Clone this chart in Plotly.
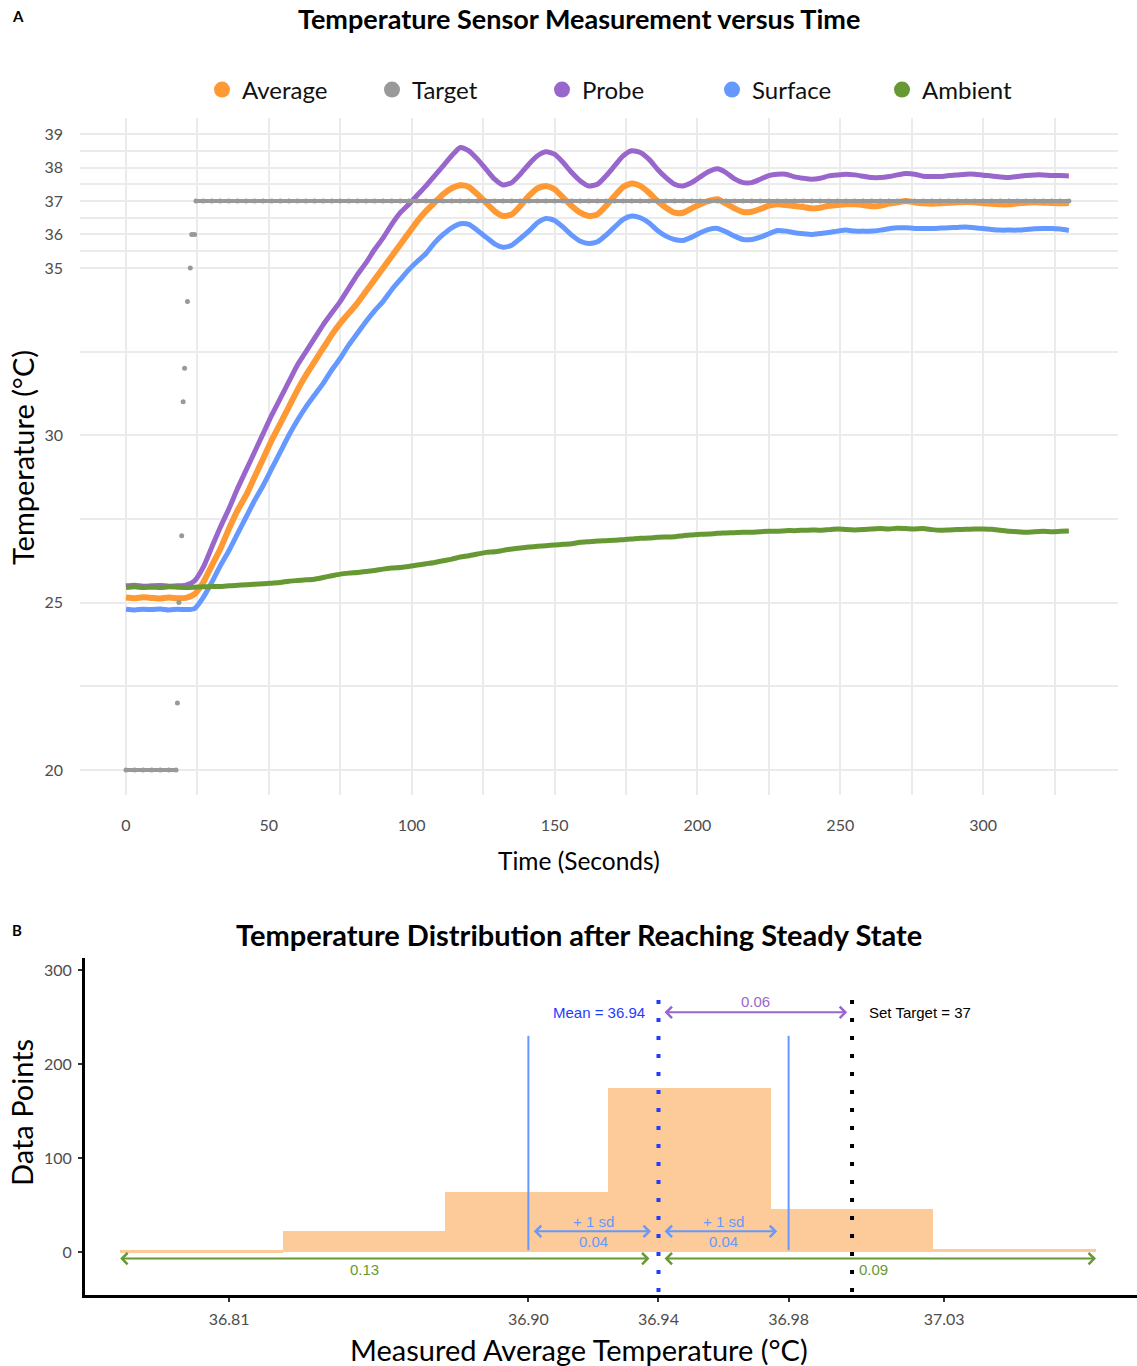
import plotly.graph_objects as go

# ---------------- Panel A data (readings every 3 s) ----------------
time_s = list(range(0, 331, 3))

average = [25.15, 25.13, 25.16, 25.14, 25.12, 25.15, 25.13, 25.14,
           25.25, 25.6, 26.1, 26.6, 27.2, 27.75, 28.2, 28.75, 29.3, 29.85,
           30.35, 30.85, 31.35, 31.8, 32.2, 32.6, 33.0, 33.35, 33.65, 33.95,
           34.3, 34.65, 35.0, 35.35, 35.7, 36.05, 36.4, 36.7, 36.95, 37.2,
           37.38, 37.47, 37.42, 37.2, 36.95, 36.7, 36.55, 36.6, 36.85, 37.15,
           37.38, 37.45, 37.35, 37.1, 36.85, 36.65, 36.55, 36.6, 36.85, 37.15,
           37.42, 37.52, 37.45, 37.25, 37.0, 36.8, 36.65, 36.65, 36.78, 36.9,
           37.0, 37.05, 36.92, 36.78, 36.67, 36.68, 36.76, 36.86, 36.9, 36.88,
           36.85, 36.82, 36.78, 36.8, 36.86, 36.88, 36.9, 36.9, 36.88, 36.84,
           36.86, 36.92, 36.96, 37.0, 36.96, 36.93, 36.92, 36.93, 36.95, 36.96,
           36.97, 36.96, 36.93, 36.92, 36.9, 36.9, 36.93, 36.95, 36.96, 36.95,
           36.94, 36.93, 36.94]

probe = [25.5, 25.52, 25.49, 25.5, 25.51, 25.49, 25.5, 25.52,
         25.65, 26.05, 26.65, 27.25, 27.8, 28.4, 28.95, 29.5, 30.05, 30.6,
         31.1, 31.6, 32.1, 32.5, 32.9, 33.3, 33.65, 34.0, 34.4, 34.8,
         35.15, 35.55, 35.9, 36.3, 36.65, 36.9, 37.18, 37.45, 37.75, 38.05,
         38.35, 38.6, 38.5, 38.25, 37.95, 37.65, 37.48, 37.55, 37.8, 38.1,
         38.35, 38.47, 38.4, 38.15, 37.85, 37.6, 37.45, 37.5, 37.75, 38.05,
         38.35, 38.5, 38.45, 38.25, 37.95, 37.7, 37.5, 37.45, 37.55, 37.72,
         37.88, 37.96, 37.85, 37.66, 37.55, 37.55, 37.65, 37.76, 37.8, 37.8,
         37.72, 37.68, 37.65, 37.68, 37.75, 37.78, 37.8, 37.78, 37.74, 37.7,
         37.7, 37.73, 37.78, 37.82, 37.8, 37.74, 37.73, 37.73, 37.76, 37.78,
         37.8, 37.8, 37.77, 37.75, 37.72, 37.7, 37.73, 37.76, 37.78, 37.78,
         37.76, 37.76, 37.75]

surface = [24.8, 24.78, 24.8, 24.79, 24.81, 24.78, 24.8, 24.79,
           24.82, 25.15, 25.6, 26.1, 26.55, 27.05, 27.55, 28.05, 28.5, 29.0,
           29.5, 30.0, 30.45, 30.85, 31.2, 31.55, 31.95, 32.3, 32.7, 33.05,
           33.4, 33.72, 34.0, 34.35, 34.65, 34.95, 35.2, 35.43, 35.75, 36.0,
           36.2, 36.32, 36.3, 36.12, 35.92, 35.72, 35.62, 35.68, 35.88, 36.1,
           36.35, 36.48, 36.42, 36.22, 35.98, 35.8, 35.73, 35.78, 35.98, 36.22,
           36.45, 36.55, 36.5, 36.35, 36.12, 35.95, 35.85, 35.82, 35.92, 36.05,
           36.15, 36.18, 36.08, 35.95, 35.85, 35.85, 35.92, 36.02, 36.12, 36.1,
           36.05, 36.02, 36.0, 36.03, 36.06, 36.1, 36.13, 36.1, 36.1, 36.1,
           36.13, 36.17, 36.2, 36.2, 36.18, 36.18, 36.18, 36.19, 36.2, 36.21,
           36.22, 36.2, 36.18, 36.15, 36.13, 36.13, 36.13, 36.15, 36.17, 36.18,
           36.18, 36.16, 36.12]

ambient = [25.45, 25.47, 25.45, 25.46, 25.45, 25.47, 25.46, 25.45,
           25.46, 25.47, 25.48, 25.48, 25.5, 25.52, 25.53, 25.55, 25.56, 25.58,
           25.6, 25.64, 25.66, 25.68, 25.7, 25.75, 25.8, 25.85, 25.88, 25.9,
           25.93, 25.96, 26.0, 26.03, 26.05, 26.08, 26.12, 26.16, 26.2, 26.25,
           26.3, 26.36, 26.4, 26.45, 26.5, 26.52, 26.56, 26.6, 26.63, 26.66,
           26.68, 26.7, 26.72, 26.74, 26.76, 26.8, 26.82, 26.84, 26.85, 26.86,
           26.88, 26.9, 26.92, 26.93, 26.95, 26.96, 26.97, 27.0, 27.02, 27.04,
           27.05, 27.07, 27.08, 27.09, 27.1, 27.1, 27.12, 27.13, 27.13, 27.15,
           27.15, 27.16, 27.17, 27.16, 27.18, 27.2, 27.18, 27.17, 27.18, 27.2,
           27.21, 27.2, 27.22, 27.21, 27.2, 27.21, 27.18, 27.16, 27.17, 27.18,
           27.19, 27.2, 27.2, 27.19, 27.16, 27.13, 27.12, 27.1, 27.12, 27.13,
           27.12, 27.13, 27.14]

target_time = [0, 3, 6, 9, 12, 15, 17.5, 18, 18.5, 19.5, 20.0, 20.5, 21.5,
               22.5, 23.0, 24.0, 24.5] + list(range(27, 331, 3))
target_val = [20, 20, 20, 20, 20, 20, 20, 22, 25, 27, 31, 32, 34,
              35, 36, 36, 37] + [37] * len(range(27, 331, 3))

for s in (average, probe, surface, ambient):
    assert len(s) == len(time_s), len(s)

# ---------------- Panel B data ----------------
bin_centers = [36.80, 36.85, 36.90, 36.95, 37.00, 37.05]
bin_counts = [2, 22, 64, 175, 46, 3]
bin_width = 0.05
mean_t = 36.9405
sd_t = 0.04
min_t = 36.8085
max_t = 37.0283
set_target = 37.0
b_ticks = [min_t, mean_t - sd_t, mean_t, mean_t + sd_t, max_t]
b_ticktext = ["36.81", "36.90", "36.94", "36.98", "37.03"]

# ---------------- colours ----------------
C_AVG = "#FF9933"
C_TGT = "#999999"
C_PRB = "#9966CC"
C_SRF = "#6699FF"
C_AMB = "#669933"

W, H = 1137, 1366
def px(x):
    return x / W
def py(y):
    return 1 - y / H

fig = go.Figure()

def sensor(y, color, width=5):
    fig.add_trace(go.Scatter(x=time_s, y=y, mode="lines",
                             line=dict(color=color, width=width, shape="spline", smoothing=0.6),
                             showlegend=False, hoverinfo="skip",
                             xaxis="x", yaxis="y"))

sensor(probe, C_PRB)
sensor(surface, C_SRF)
sensor(average, C_AVG, 6)
sensor(ambient, C_AMB)

# target with gaps where value changes (isolated points become single dots)
tx, ty = [], []
for i, (t, v) in enumerate(zip(target_time, target_val)):
    if i > 0 and v != target_val[i - 1]:
        tx.append(None); ty.append(None)
    tx.append(t); ty.append(v)
fig.add_trace(go.Scatter(x=tx, y=ty, mode="lines+markers",
                         line=dict(color=C_TGT, width=4),
                         marker=dict(color=C_TGT, size=5),
                         showlegend=False, hoverinfo="skip",
                         xaxis="x", yaxis="y"))

# legend entries
for name, c in [("Average", C_AVG), ("Target", C_TGT), ("Probe", C_PRB),
                ("Surface", C_SRF), ("Ambient", C_AMB)]:
    fig.add_trace(go.Scatter(x=[None], y=[None], mode="markers", name=name,
                             marker=dict(color=c, size=16), xaxis="x", yaxis="y"))

# histogram bars
fig.add_trace(go.Bar(x=bin_centers, y=bin_counts, width=[bin_width] * len(bin_centers),
                     marker=dict(color="#FDCB99", line=dict(width=0)),
                     showlegend=False, hoverinfo="skip",
                     xaxis="x2", yaxis="y2"))

grid = "#EBEBEB"
tickfont = dict(family="Lato", size=16, color="#4D4D4D")

fig.update_layout(
    width=W, height=H,
    margin=dict(l=0, r=0, t=0, b=0),
    paper_bgcolor="white", plot_bgcolor="white",
    font=dict(family="Lato"),
    showlegend=True,
    legend=dict(orientation="h", x=px(202), y=py(90), xanchor="left", yanchor="middle",
                font=dict(family="Lato", size=24, color="#111111"),
                entrywidth=125, itemsizing="trace", bgcolor="rgba(0,0,0,0)",
                traceorder="normal"),
    xaxis=dict(domain=[px(80), px(1118)], range=[-16.1, 347.2], anchor="y",
               tickvals=[0, 50, 100, 150, 200, 250, 300],
               showgrid=True, gridcolor=grid, gridwidth=2, zeroline=False,
               showline=False, ticks="", tickfont=tickfont, ticklabelstandoff=19,
               minor=dict(tickvals=[25, 75, 125, 175, 225, 275, 325],
                          showgrid=True, gridcolor=grid, gridwidth=1.5)),
    yaxis=dict(domain=[py(795), py(118)], range=[19.25, 39.48], anchor="x",
               tickvals=[20, 25, 30, 35, 36, 37, 38, 39],
               showgrid=True, gridcolor=grid, gridwidth=2, zeroline=False,
               showline=False, ticks="", tickfont=tickfont, ticklabelstandoff=16,
               minor=dict(tickvals=[22.5, 27.5, 32.5, 35.5, 36.5, 37.5, 38.5],
                          showgrid=True, gridcolor=grid, gridwidth=1.5)),
    xaxis2=dict(domain=[px(85), 1.0], range=[36.7642, 37.0876], anchor="y2",
                tickvals=b_ticks, ticktext=b_ticktext,
                showgrid=False, zeroline=False, showline=True, linecolor="black",
                linewidth=3, ticks="outside", ticklen=4, tickwidth=1.5, tickcolor="#333",
                tickfont=tickfont, ticklabelstandoff=4),
    yaxis2=dict(domain=[py(1295), py(958)], range=[-45.7, 312.8], anchor="x2",
                tickvals=[0, 100, 200, 300],
                showgrid=False, zeroline=False, showline=True, linecolor="black",
                linewidth=3, ticks="outside", ticklen=4, tickwidth=1.5, tickcolor="#333",
                tickfont=tickfont, ticklabelstandoff=3),
    bargap=0,
)

ann = []
def paper_text(text, x, y, size, bold=False, angle=0, color="black", family="Lato"):
    ann.append(dict(text=("<b>%s</b>" % text) if bold else text, x=px(x), y=py(y),
                    xref="paper", yref="paper", showarrow=False, textangle=angle,
                    xanchor="center", yanchor="middle",
                    font=dict(family=family, size=size, color=color)))

paper_text("A", 18, 16, 15, bold=True)
paper_text("Temperature Sensor Measurement versus Time", 579, 18, 27, bold=True)
paper_text("Temperature (°C)", 22, 458, 29, angle=-90)
paper_text("Time (Seconds)", 579, 860, 24.5)
paper_text("B", 17, 930, 15, bold=True)
paper_text("Temperature Distribution after Reaching Steady State", 579, 934, 29, bold=True)
paper_text("Data Points", 21, 1113, 29, angle=-90)
paper_text("Measured Average Temperature (°C)", 579, 1349, 29)

ARIAL = "Liberation Sans"
def data_text(text, x, y, color, size=15, xanchor="center"):
    ann.append(dict(text=text, x=x, y=y, xref="x2", yref="y2", showarrow=False,
                    xanchor=xanchor, yanchor="middle",
                    font=dict(family=ARIAL, size=size, color=color)))

def arrow(x0, x1, y, color):
    ann.append(dict(text="", x=x1, y=y, ax=x0, ay=y, xref="x2", yref="y2",
                    axref="x2", ayref="y2", showarrow=True, arrowside="end+start",
                    arrowhead=4, startarrowhead=4, arrowsize=1.1, startarrowsize=1.1,
                    arrowwidth=2, arrowcolor=color, standoff=0, startstandoff=0))

C_MEAN = "#1F3BFF"
C_SD = "#6699FF"
C_DIFF = "#9966CC"
C_RANGE = "#669933"

data_text("Mean = 36.94", mean_t - 0.0035, 255, C_MEAN, xanchor="right")
data_text("Set Target = 37", set_target + 0.0046, 255, "black", xanchor="left")
arrow(mean_t + 0.0014, set_target - 0.0015, 255, C_DIFF)
data_text("0.06", (mean_t + set_target) / 2, 266, C_DIFF)

arrow(mean_t - sd_t + 0.0012, mean_t - 0.0023, 22, C_SD)
arrow(mean_t + 0.0014, mean_t + sd_t - 0.0035, 22, C_SD)
for xc in (mean_t - sd_t / 2, mean_t + sd_t / 2):
    data_text("+ 1 sd", xc, 33, C_SD)
    data_text("0.04", xc, 11, C_SD)

lo_edge = bin_centers[0] - bin_width / 2
hi_edge = bin_centers[-1] + bin_width / 2
arrow(mean_t - 0.0023, lo_edge, -7, C_RANGE)
arrow(mean_t + 0.0014, hi_edge, -7, C_RANGE)
data_text("0.13", 36.850, -19, C_RANGE)
data_text("0.09", 37.0065, -19, C_RANGE)

fig.update_layout(annotations=ann)

shapes = [
    dict(type="line", xref="x2", yref="y2", x0=mean_t - sd_t, x1=mean_t - sd_t, y0=2, y1=230,
         line=dict(color=C_SD, width=2)),
    dict(type="line", xref="x2", yref="y2", x0=mean_t + sd_t, x1=mean_t + sd_t, y0=2, y1=230,
         line=dict(color=C_SD, width=2)),
    dict(type="line", xref="x2", yref="y2", x0=mean_t, x1=mean_t, y0=268, y1=-44,
         line=dict(color=C_MEAN, width=4, dash="4px,14px")),
    dict(type="line", xref="x2", yref="y2", x0=set_target, x1=set_target, y0=268, y1=-44,
         line=dict(color="black", width=4, dash="4px,14px")),
]
fig.update_layout(shapes=shapes)

fig.write_html("out.html", config={"displayModeBar": False},
               post_script="document.body.style.margin='0';document.body.style.padding='0';")
